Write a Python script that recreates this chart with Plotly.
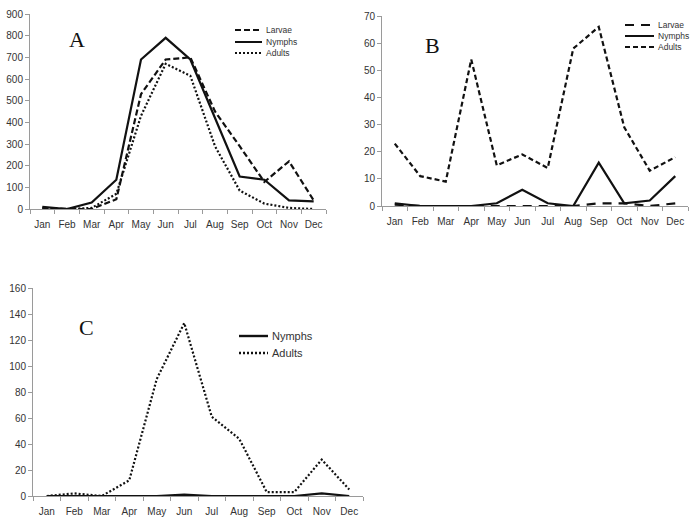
import plotly.graph_objects as go

months = ["Jan", "Feb", "Mar", "Apr", "May", "Jun", "Jul", "Aug", "Sep", "Oct", "Nov", "Dec"]

# Panel A
a_larvae = [5, 0, 0, 45, 530, 690, 700, 450, 290, 125, 220, 40]
a_nymphs = [10, 0, 30, 135, 690, 790, 690, 420, 150, 135, 40, 35]
a_adults = [0, 0, 5, 70, 430, 670, 615, 290, 85, 25, 5, 0]

# Panel B
b_larvae = [0.5, 0, 0, 0, 0, 0, 0, 0, 1, 1, 0, 1]
b_nymphs = [1, 0, 0, 0, 1, 6, 1, 0, 16, 1, 2, 11]
b_adults = [23, 11, 9, 54, 15, 19, 14, 58, 66, 29, 13, 18]

# Panel C
c_nymphs = [0, 0, 0, 0, 0, 1, 0, 0, 0, 0, 2, 0]
c_adults = [0, 2, 0, 12, 90, 133, 61, 44, 3, 3, 28, 5]

W, H = 700, 525

def fx(px):
    return px / W

def fy(py):
    return 1 - py / H

fig = go.Figure()

LW = 2.2
BLACK = "#111111"
DASH = {
    "a_larvae": "6px,3px", "a_nymphs": "solid", "a_adults": "2px,2px",
    "b_larvae": "9px,7px", "b_nymphs": "solid", "b_adults": "5px,3px",
    "c_nymphs": "solid", "c_adults": "2px,2px",
}

def add(x, y, name, dash, xa, ya):
    fig.add_trace(go.Scatter(
        x=x, y=y, name=name, mode="lines",
        line=dict(color=BLACK, width=LW, dash=dash),
        xaxis=xa, yaxis=ya, showlegend=False))

add(months, a_larvae, "Larvae", DASH["a_larvae"], "x", "y")
add(months, a_nymphs, "Nymphs", DASH["a_nymphs"], "x", "y")
add(months, a_adults, "Adults", DASH["a_adults"], "x", "y")

add(months, b_larvae, "Larvae", DASH["b_larvae"], "x2", "y2")
add(months, b_nymphs, "Nymphs", DASH["b_nymphs"], "x2", "y2")
add(months, b_adults, "Adults", DASH["b_adults"], "x2", "y2")

add(months, c_nymphs, "Nymphs", DASH["c_nymphs"], "x3", "y3")
add(months, c_adults, "Adults", DASH["c_adults"], "x3", "y3")

AX = "#9a9a9a"
TXT = "#333333"
FONT = "Liberation Sans, Arial, sans-serif"
TF = dict(size=10, color=TXT, family=FONT)

def xaxis(x0, x1):
    return dict(domain=[fx(x0), fx(x1)], type="category", range=[-0.5, 11.5],
                showline=True, linecolor=AX, linewidth=1, ticks="outside",
                tickson="boundaries", ticklen=4, tickcolor=AX, showgrid=False,
                zeroline=False, tickfont=TF, tickangle=0, automargin=False,
                ticklabelstandoff=6, fixedrange=True)

def yaxis(y_top, y_bot, rng, dtick, anchor):
    return dict(domain=[fy(y_bot), fy(y_top)], range=rng, dtick=dtick,
                showline=True, linecolor=AX, linewidth=1, ticks="outside",
                ticklen=4, tickcolor=AX, showgrid=False, zeroline=False,
                tickfont=TF, anchor=anchor, automargin=False,
                fixedrange=True)

fig.update_layout(
    width=W, height=H, margin=dict(l=0, r=0, t=0, b=0, autoexpand=False),
    paper_bgcolor="white", plot_bgcolor="white",
    font=dict(family=FONT, color=TXT),
    xaxis=dict(xaxis(30, 326), anchor="y"),
    yaxis=yaxis(14, 209, [0, 900], 100, "x"),
    xaxis2=dict(xaxis(382, 688), anchor="y2"),
    yaxis2=yaxis(16, 206, [0, 70], 10, "x2"),
    xaxis3=dict(xaxis(33, 363), anchor="y3"),
    yaxis3=yaxis(288, 496, [0, 160], 20, "x3"),
    showlegend=False,
    hovermode=False,
)

# Manual legends: (names, dashes, sample x0, x1, text x, row y's, font size, line width)
legends = [
    (["Larvae", "Nymphs", "Adults"], [DASH["a_larvae"], DASH["a_nymphs"], DASH["a_adults"]],
     235, 262, 264, [30, 42, 53], 8.5, 2.0),
    (["Larvae", "Nymphs", "Adults"], [DASH["b_larvae"], DASH["b_nymphs"], DASH["b_adults"]],
     625, 654, 656, [25, 36, 47], 8.5, 2.0),
    (["Nymphs", "Adults"], [DASH["c_nymphs"], DASH["c_adults"]],
     239, 268, 270, [336, 353], 11, 2.4),
]
for names, dashes, sx0, sx1, tx, ys, fs, lw in legends:
    for nm, ds, yy in zip(names, dashes, ys):
        fig.add_shape(type="line", xref="paper", yref="paper",
                      x0=fx(sx0), x1=fx(sx1), y0=fy(yy), y1=fy(yy),
                      line=dict(color=BLACK, width=lw, dash=ds))
        fig.add_annotation(text=nm, x=fx(tx), y=fy(yy), xref="paper", yref="paper",
                           showarrow=False, xanchor="left", yanchor="middle",
                           font=dict(size=fs, color=TXT, family=FONT))

for txt, px, py in [("A", 77, 40), ("B", 432, 45), ("C", 86, 327)]:
    fig.add_annotation(text=txt, x=fx(px), y=fy(py), xref="paper", yref="paper",
                       showarrow=False, xanchor="center", yanchor="middle",
                       font=dict(family="Liberation Serif, Times New Roman, serif",
                                 size=22, color="#111111"))

# remove the default page margin so the 700x525 figure fills the window exactly
fig.write_html("out.html",
               config={"displayModeBar": False, "staticPlot": True},
               post_script="document.body.style.margin='0';document.body.style.overflow='hidden';")
